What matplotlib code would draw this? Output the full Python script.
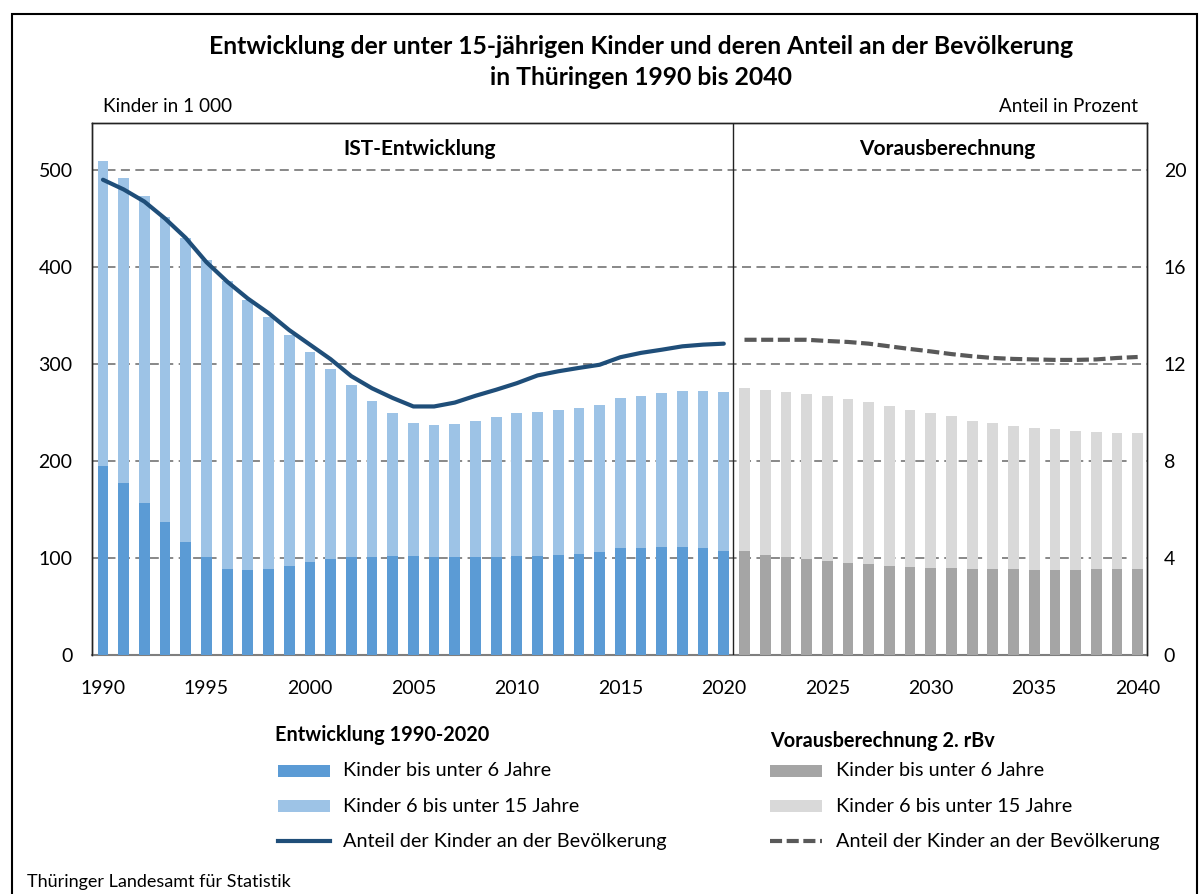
import matplotlib
matplotlib.use("Agg")
import matplotlib.pyplot as plt
from matplotlib.patches import Rectangle
from matplotlib.lines import Line2D
import numpy as np

plt.rcParams['font.family'] = ['Lato', 'DejaVu Sans']

# ---------------- data ----------------
years_ist = list(range(1990, 2021))
u6_ist = [195, 177, 157, 137, 117, 101, 89, 88, 89, 92, 96, 99, 101, 101, 102, 102,
          101, 101, 101, 101, 102, 102, 103, 104, 106, 110, 110, 111, 111, 110, 107]
total_ist = [509, 492, 473, 452, 430, 407, 386, 366, 348, 330, 312, 295, 278, 262, 249, 239,
             237, 238, 241, 245, 249, 251, 253, 255, 258, 265, 267, 270, 272, 272, 271]
share_ist = [19.6, 19.2, 18.7, 18.0, 17.2, 16.2, 15.4, 14.7, 14.1, 13.4, 12.8, 12.2, 11.5, 11.0, 10.6, 10.25,
             10.25, 10.41, 10.69, 10.94, 11.21, 11.53, 11.70, 11.84, 11.97, 12.28, 12.46, 12.59, 12.73, 12.80, 12.84]

years_vb = list(range(2021, 2041))
u6_vb = [107, 103, 101, 99, 97, 95, 94, 92, 91, 90, 90, 89, 89, 89, 88, 88, 88, 89, 89, 89]
total_vb = [275, 273, 271, 269, 267, 264, 261, 257, 253, 250, 246, 241, 239, 236, 234, 233, 231, 230, 229, 229]
share_vb = [13.0, 13.0, 13.0, 13.0, 12.95, 12.91, 12.84, 12.73, 12.62, 12.52, 12.41, 12.32, 12.25, 12.21,
            12.19, 12.17, 12.17, 12.19, 12.25, 12.29]

left_ticks = [0, 100, 200, 300, 400, 500]
right_ticks = [0, 4, 8, 12, 16, 20]
x_ticks = [1990, 1995, 2000, 2005, 2010, 2015, 2020, 2025, 2030, 2035, 2040]

title = "Entwicklung der unter 15-jährigen Kinder und deren Anteil an der Bevölkerung\nin Thüringen 1990 bis 2040"

# ---------------- colours ----------------
c_u6_ist = '#5B9BD5'
c_o6_ist = '#9DC3E6'
c_line_ist = '#1F4E79'
c_u6_vb = '#A5A5A5'
c_o6_vb = '#D9D9D9'
c_line_vb = '#595959'

W, H = 1203, 894
fig = plt.figure(figsize=(W / 100, H / 100), dpi=100)

def fx(px):
    return px / W

def fy(py):
    return 1 - py / H

# outer frame
fig.add_artist(Rectangle((fx(12), fy(900)), fx(1197) - fx(12), fy(14) - fy(900),
                         transform=fig.transFigure, fill=False, edgecolor='black', linewidth=1.5))

ax_l, ax_r, ax_t, ax_b = 92, 1147, 123, 655
ax = fig.add_axes([fx(ax_l), fy(ax_b), fx(ax_r) - fx(ax_l), fy(ax_t) - fy(ax_b)])
ax2 = ax.twinx()

ymax = 548.5
ax.set_ylim(0, ymax)
ax2.set_ylim(0, ymax / 25)
ax.set_xlim(1989.47, 2040.45)

bw = 0.52
o6_ist = [t - u for t, u in zip(total_ist, u6_ist)]
o6_vb = [t - u for t, u in zip(total_vb, u6_vb)]
ax.bar(years_ist, u6_ist, width=bw, color=c_u6_ist, zorder=3)
ax.bar(years_ist, o6_ist, bottom=u6_ist, width=bw, color=c_o6_ist, zorder=3)
ax.bar(years_vb, u6_vb, width=bw, color=c_u6_vb, zorder=3)
ax.bar(years_vb, o6_vb, bottom=u6_vb, width=bw, color=c_o6_vb, zorder=3)

for v in left_ticks[1:]:
    ax.axhline(v, color='#7F7F7F', linestyle=(0, (5, 3)), linewidth=1.3, zorder=1)

ax.axvline(2020.45, color='#222222', linewidth=1.0, zorder=4)

dash_vb = (0, (2.9, 1.1))
ax2.plot(years_ist, share_ist, color=c_line_ist, linewidth=3.0, solid_capstyle='round', zorder=5)
ax2.plot(years_vb, share_vb, color=c_line_vb, linewidth=3.0, linestyle=dash_vb, zorder=5)

ax.set_yticks(left_ticks)
ax2.set_yticks(right_ticks)
ax.set_xticks(x_ticks)
ax.tick_params(axis='y', length=0, labelsize=14, pad=14, colors='#000000')
ax.tick_params(axis='x', length=0, labelsize=14, pad=18, colors='#000000')
ax2.tick_params(axis='y', length=0, labelsize=14, pad=12)

for sp in ['top', 'left', 'right']:
    ax.spines[sp].set_color('#222222')
    ax.spines[sp].set_linewidth(1.0)
    ax2.spines[sp].set_color('#222222')
    ax2.spines[sp].set_linewidth(1.0)
ax.spines['bottom'].set_color('#7F7F7F')
ax.spines['bottom'].set_linewidth(1.5)
ax2.spines['bottom'].set_visible(False)

ax.text(2005.3, 522, "IST-Entwicklung", ha='center', va='center', fontsize=15, fontweight='bold')
ax.text(2030.8, 522, "Vorausberechnung", ha='center', va='center', fontsize=15, fontweight='bold')

fig.text(fx(641), fy(62), title, ha='center', va='center', fontsize=17.8, fontweight='bold', linespacing=1.45)
fig.text(fx(103), fy(107), "Kinder in 1 000", ha='left', va='center', fontsize=13.6)
fig.text(fx(1138), fy(107), "Anteil in Prozent", ha='right', va='center', fontsize=13.6)
fig.text(fx(27), fy(882), "Thüringer Landesamt für Statistik", ha='left', va='center', fontsize=13)

# legend (custom)
def patch(x0, yc, color):
    fig.add_artist(Rectangle((fx(x0), fy(yc + 6)), fx(52), 12 / H, transform=fig.transFigure,
                             facecolor=color, edgecolor='none'))

def lline(x0, yc, color, ls):
    fig.add_artist(Line2D([fx(x0), fx(x0 + 52)], [fy(yc), fy(yc)], transform=fig.transFigure,
                          color=color, linewidth=3.0, linestyle=ls))

fs_leg = 14.3
fig.text(fx(275), fy(735), "Entwicklung 1990-2020", ha='left', va='center', fontsize=fs_leg, fontweight='bold')
patch(278, 771, c_u6_ist)
patch(278, 806, c_o6_ist)
lline(278, 841, c_line_ist, '-')
fig.text(fx(343), fy(771), "Kinder bis unter 6 Jahre", ha='left', va='center', fontsize=fs_leg)
fig.text(fx(343), fy(806), "Kinder 6 bis unter 15 Jahre", ha='left', va='center', fontsize=fs_leg)
fig.text(fx(343), fy(841), "Anteil der Kinder an der Bevölkerung", ha='left', va='center', fontsize=fs_leg)

fig.text(fx(770), fy(741), "Vorausberechnung 2. rBv", ha='left', va='center', fontsize=fs_leg, fontweight='bold')
patch(770, 771, c_u6_vb)
patch(770, 806, c_o6_vb)
lline(770, 841, c_line_vb, dash_vb)
fig.text(fx(836), fy(771), "Kinder bis unter 6 Jahre", ha='left', va='center', fontsize=fs_leg)
fig.text(fx(836), fy(806), "Kinder 6 bis unter 15 Jahre", ha='left', va='center', fontsize=fs_leg)
fig.text(fx(836), fy(841), "Anteil der Kinder an der Bevölkerung", ha='left', va='center', fontsize=fs_leg)

fig.savefig("out.png", dpi=100)
